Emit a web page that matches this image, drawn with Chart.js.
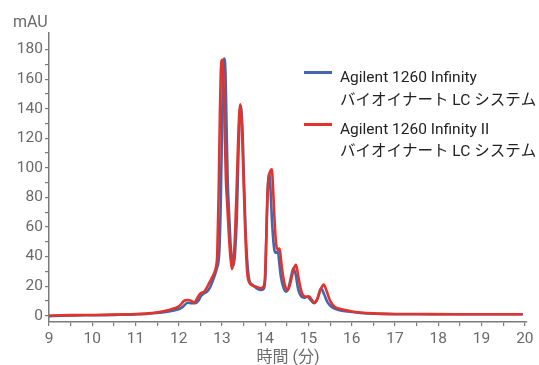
<!DOCTYPE html>
<html>
<head>
<meta charset="utf-8">
<script src="https://cdn.jsdelivr.net/npm/chart.js@4.4.0/dist/chart.umd.min.js"></script>
<style>
  html, body { margin: 0; padding: 0; background: #ffffff; }
  #wrap { width: 539px; height: 365px; position: relative; }
</style>
</head>
<body>
<div id="wrap"><canvas id="chart"></canvas></div>
<script>
// Chromatogram traces: retention time (min) and absorbance (mAU)
const infinityTimes = [
  9.0, 9.3, 9.6, 10.0, 10.3, 10.6, 11.0, 11.3, 11.55, 11.8, 11.95, 12.05, 12.13, 12.2, 12.3, 12.38,
  12.45, 12.52, 12.59, 12.66, 12.72, 12.79, 12.84, 12.88, 12.92, 12.94, 12.97, 13.0, 13.02, 13.05,
  13.08, 13.1, 13.13, 13.17, 13.2, 13.24, 13.27, 13.3, 13.34, 13.38, 13.41, 13.43, 13.45, 13.48,
  13.51, 13.55, 13.59, 13.63, 13.7, 13.75, 13.83, 13.9, 13.96, 14.0, 14.03, 14.06, 14.08, 14.1,
  14.12, 14.15, 14.18, 14.21, 14.25, 14.29, 14.33, 14.36, 14.42, 14.48, 14.54, 14.6, 14.65, 14.7,
  14.76, 14.83, 14.9, 14.97, 15.05, 15.13, 15.2, 15.29, 15.36, 15.44, 15.55, 15.7, 15.9, 16.2, 16.5,
  17.0, 17.6, 18.5, 19.95
];
const infinityValues = [
  -0.3, 0.0, 0.2, 0.3, 0.4, 0.6, 0.9, 1.3, 2.0, 3.0, 4.0, 5.2, 7.0, 8.8, 8.4, 8.5,
  10.0, 13.5, 15.2, 16.5, 19, 24, 28, 32, 37, 45, 76, 128, 160, 174,
  164, 135, 92, 65, 47, 37, 34, 42, 65, 110, 136, 142, 138, 120,
  88, 54, 34, 24.2, 21, 19.7, 18, 17.4, 18, 25, 60, 88, 96, 94,
  86, 67, 53, 44.5, 42.5, 43.4, 34, 26.4, 19, 16.3, 19, 27, 32, 28,
  18, 13, 12.2, 12.8, 10.5, 8.4, 11, 18.6, 14.5, 9, 5.5, 3.8, 2.8, 1.8, 1.3,
  1.0, 1.0, 1.0, 1.0
];

const infinityIITimes = [
  9.0, 9.3, 9.6, 10.0, 10.3, 10.6, 11.0, 11.3, 11.55, 11.78, 11.9, 12.0, 12.06, 12.12, 12.2, 12.28,
  12.36, 12.43, 12.5, 12.59, 12.65, 12.7, 12.78, 12.82, 12.86, 12.89, 12.92, 12.95, 12.97, 13.0,
  13.03, 13.06, 13.09, 13.12, 13.16, 13.2, 13.23, 13.26, 13.3, 13.34, 13.38, 13.4, 13.42, 13.44,
  13.47, 13.5, 13.53, 13.56, 13.59, 13.63, 13.7, 13.8, 13.9, 13.95, 13.99, 14.02, 14.05, 14.09,
  14.12, 14.15, 14.18, 14.21, 14.24, 14.27, 14.3, 14.33, 14.37, 14.4, 14.46, 14.52, 14.58, 14.65,
  14.71, 14.76, 14.82, 14.88, 14.95, 15.01, 15.07, 15.13, 15.19, 15.27, 15.35, 15.42, 15.5, 15.6,
  15.7, 15.83, 16.0, 16.2, 16.5, 17.0, 17.6, 18.5, 19.95
];
const infinityIIValues = [
  0.0, 0.3, 0.4, 0.5, 0.6, 0.8, 1.1, 1.6, 2.5, 3.9, 5.0, 6.3, 8.0, 10.0, 10.6, 10.2,
  8.8, 12.0, 15.0, 16.3, 19, 22, 26.4, 29, 33, 42, 80, 135, 163, 173,
  164, 128, 92, 76, 54, 38, 31.5, 36, 54, 88, 125, 137, 143, 138,
  118, 90, 62, 40, 27, 22.5, 20.5, 19.5, 18.6, 19.5, 25, 50, 82, 95,
  98, 99, 86, 67, 52, 45.5, 44.5, 45.5, 36, 29, 20, 17.4, 22, 31,
  34.4, 27, 18, 13.5, 12.8, 13.2, 11, 8.8, 10.5, 17, 21, 16.5, 10, 6.1,
  4.8, 3.9, 2.9, 2.2, 1.6, 1.2, 1.1, 1.0, 1.0
];

// Labelled ticks
const xTickLabels = [9, 10, 11, 12, 13, 14, 15, 16, 17, 18, 19, 20];
const yTickLabels = [0, 20, 40, 60, 80, 100, 120, 140, 160, 180];

const seriesNames = [
  'Agilent 1260 Infinity\nバイオイナート LC システム',
  'Agilent 1260 Infinity II\nバイオイナート LC システム'
];

const BLUE = '#4565ad';
const RED = '#e2342c';
const AXIS = '#7b7b7b';
const TEXT_GREY = '#6a6a6a';
const LATIN = 'Roboto, "Noto Sans CJK JP", sans-serif';

function toPoints(times, values) {
  return times.map((t, i) => ({ x: t, y: values[i] }));
}

// Major ticks carry labels; minor ticks sit halfway between them
function withMinor(labels) {
  const out = [];
  labels.forEach((v, i) => {
    out.push(v);
    if (i < labels.length - 1) out.push((v + labels[i + 1]) / 2);
  });
  return out;
}

const xTicks = withMinor(xTickLabels);
const yTicks = withMinor(yTickLabels);

// Unit label and two-line legend
const annotations = {
  id: 'annotations',
  afterDraw(chart) {
    const ctx = chart.ctx;
    ctx.save();
    ctx.font = '16px ' + LATIN;
    ctx.fillStyle = TEXT_GREY;
    ctx.textBaseline = 'alphabetic';
    ctx.textAlign = 'left';
    ctx.fillText('mAU', 13, 27);

    const entries = [
      { ds: chart.data.datasets[1], lineY: 72.5, base: 82 },
      { ds: chart.data.datasets[0], lineY: 124.5, base: 133.5 }
    ];
    entries.forEach(e => {
      ctx.strokeStyle = e.ds.borderColor;
      ctx.lineWidth = 3;
      ctx.beginPath();
      ctx.moveTo(304, e.lineY);
      ctx.lineTo(332, e.lineY);
      ctx.stroke();
      ctx.fillStyle = '#222222';
      const lines = e.ds.label.split('\n');
      ctx.font = '15.5px ' + LATIN;
      ctx.fillText(lines[0], 340, e.base);
      ctx.font = '15.5px ' + LATIN;
      ctx.fillText(lines[1], 340, e.base + 22.5);
    });
    ctx.restore();
  }
};

new Chart(document.getElementById('chart'), {
  type: 'line',
  data: {
    datasets: [
      {
        label: seriesNames[1],
        data: toPoints(infinityIITimes, infinityIIValues),
        borderColor: RED,
        borderWidth: 2.6,
        pointRadius: 0,
        cubicInterpolationMode: 'monotone',
        fill: false,
        order: 0
      },
      {
        label: seriesNames[0],
        data: toPoints(infinityTimes, infinityValues),
        borderColor: BLUE,
        borderWidth: 2.6,
        pointRadius: 0,
        cubicInterpolationMode: 'monotone',
        fill: false,
        order: 1
      }
    ]
  },
  options: {
    responsive: true,
    maintainAspectRatio: false,
    animation: false,
    devicePixelRatio: 1,
    layout: { padding: { left: 0, right: 12, top: 33, bottom: 0 } },
    plugins: { legend: { display: false }, tooltip: { enabled: false } },
    scales: {
      x: {
        type: 'linear',
        min: 9,
        max: 20.05,
        afterBuildTicks: s => { s.ticks = xTicks.map(v => ({ value: v })); },
        afterFit: s => { s.height = 43; },
        ticks: {
          autoSkip: false,
          maxRotation: 0,
          padding: 4,
          color: TEXT_GREY,
          font: { family: LATIN, size: 15.5 },
          callback: v => (Number.isInteger(v) ? String(v) : '')
        },
        grid: { drawOnChartArea: false, drawTicks: true, tickLength: 4, color: AXIS, lineWidth: 1.2 },
        border: { display: true, color: AXIS, width: 1.5 },
        title: {
          display: true,
          text: '時間 (分)',
          color: TEXT_GREY,
          font: { family: LATIN, size: 16 },
          padding: { top: 0, bottom: -3 }
        }
      },
      y: {
        type: 'linear',
        min: -4.26,
        max: 191.2,
        afterBuildTicks: s => { s.ticks = yTicks.map(v => ({ value: v })); },
        afterFit: s => { s.width = 49; },
        ticks: {
          autoSkip: false,
          padding: 2,
          color: TEXT_GREY,
          font: { family: LATIN, size: 15.5 },
          callback: v => (v % 20 === 0 ? String(v) : '')
        },
        grid: { drawOnChartArea: false, drawTicks: true, tickLength: 4, color: AXIS, lineWidth: 1.2 },
        border: { display: true, color: AXIS, width: 1.5 }
      }
    }
  },
  plugins: [annotations]
});
</script>
</body>
</html>
